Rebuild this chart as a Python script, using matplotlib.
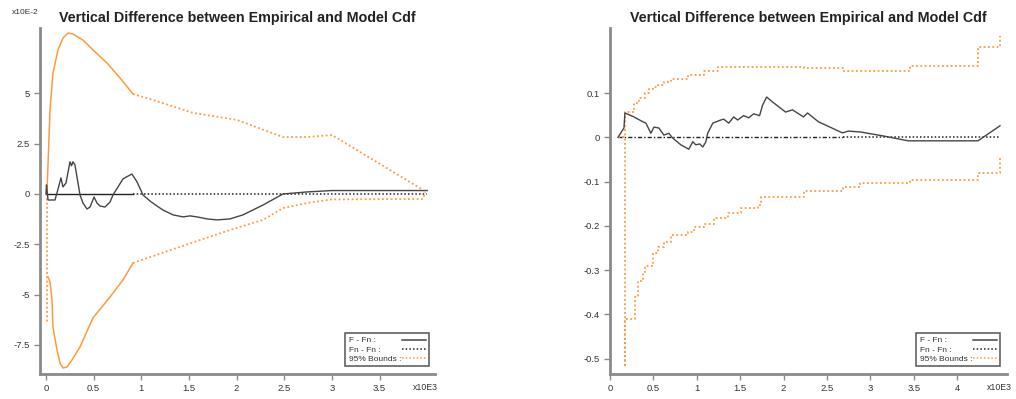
import matplotlib
matplotlib.use('Agg')
import matplotlib.pyplot as plt
from matplotlib.lines import Line2D

plt.rcParams['font.family'] = ['Liberation Sans', 'DejaVu Sans']

# ---------------- data: left panel (x in 1E3, y in 1E-2) ----------------
left_title = 'Vertical Difference between Empirical and Model Cdf'
left_xticks = [0, 0.5, 1, 1.5, 2, 2.5, 3, 3.5]
left_xticklabels = ['0', '0.5', '1', '1.5', '2', '2.5', '3', '3.5']
left_yticks = [-7.5, -5, -2.5, 0, 2.5, 5]
left_yticklabels = ['-7.5', '-5', '-2.5', '0', '2.5', '5']

left_diff_x = [0.0, 0.005, 0.021, 0.094, 0.115, 0.157, 0.178, 0.210, 0.252, 0.268,
               0.283, 0.304, 0.357, 0.388, 0.430, 0.462, 0.504, 0.535, 0.567, 0.619,
               0.672, 0.703, 0.808, 0.881, 0.902, 0.955, 1.018, 1.091, 1.165, 1.228,
               1.333, 1.438, 1.511, 1.584, 1.689, 1.794, 1.931, 2.067, 2.277, 2.487,
               2.739, 3.001, 4.000]
left_diff_y = [0.0, 0.45, -0.30, -0.30, 0.05, 0.80, 0.35, 0.55, 1.60, 1.40,
               1.60, 1.44, -0.05, -0.45, -0.75, -0.65, -0.15, -0.45, -0.60, -0.65,
               -0.40, -0.05, 0.75, 0.94, 0.99, 0.60, -0.05, -0.35, -0.60, -0.80,
               -1.04, -1.14, -1.09, -1.14, -1.24, -1.29, -1.24, -1.04, -0.55, 0.00,
               0.10, 0.17, 0.17]

left_upper_dense_x = [0.010, 0.042, 0.073, 0.126, 0.178, 0.231, 0.283, 0.388, 0.493,
                      0.640, 0.776, 0.913]
left_upper_dense_y = [0.05, 4.17, 6.01, 7.16, 7.75, 8.00, 7.95, 7.65, 7.16,
                      6.51, 5.77, 4.97]
left_upper_sparse_x = [0.913, 1.091, 1.543, 2.004, 2.487, 2.739, 3.001, 3.956]
left_upper_sparse_y = [4.97, 4.72, 4.03, 3.68, 2.83, 2.83, 2.93, 0.20]

left_lower_start_x = [0.010, 0.010]
left_lower_start_y = [0.0, -6.40]
left_lower_dense_x = [0.021, 0.042, 0.063, 0.073, 0.115, 0.147, 0.178, 0.220, 0.273,
                      0.357, 0.493, 0.672, 0.808, 0.913]
left_lower_dense_y = [-4.13, -4.37, -5.27, -6.61, -7.75, -8.40, -8.65, -8.60, -8.25,
                      -7.60, -6.16, -5.12, -4.27, -3.43]
left_lower_sparse_x = [0.913, 1.616, 1.931, 2.277, 2.487, 2.739, 3.001, 3.956, 3.980]
left_lower_sparse_y = [-3.43, -2.29, -1.79, -1.29, -0.70, -0.45, -0.27, -0.25, 0.10]

left_zero_dense_x = [0.0, 0.913]
left_zero_sparse_x = [0.913, 4.000]

# ---------------- data: right panel (x in 1E3) ----------------
right_title = 'Vertical Difference between Empirical and Model Cdf'
right_xticks = [0, 0.5, 1, 1.5, 2, 2.5, 3, 3.5, 4]
right_xticklabels = ['0', '0.5', '1', '1.5', '2', '2.5', '3', '3.5', '4']
right_yticks = [-0.5, -0.4, -0.3, -0.2, -0.1, 0, 0.1]
right_yticklabels = ['-0.5', '-0.4', '-0.3', '-0.2', '-0.1', '0', '0.1']

right_diff_x = [0.092, 0.161, 0.172, 0.276, 0.379, 0.414, 0.471, 0.506, 0.563, 0.621,
                0.678, 0.724, 0.816, 0.908, 0.954, 0.988, 1.035, 1.069, 1.103, 1.126,
                1.184, 1.276, 1.310, 1.368, 1.425, 1.471, 1.540, 1.598, 1.655, 1.724,
                1.759, 1.805, 1.885, 2.023, 2.103, 2.230, 2.276, 2.402, 2.678, 2.747,
                2.885, 3.149, 3.437, 3.839, 4.241, 4.494]
right_diff_y = [0.0, 0.021, 0.055, 0.046, 0.035, 0.032, 0.009, 0.023, 0.021, 0.005,
                0.009, -0.002, -0.017, -0.027, -0.010, -0.017, -0.015, -0.022, -0.011, 0.009,
                0.032, 0.039, 0.041, 0.032, 0.046, 0.039, 0.049, 0.044, 0.053, 0.049,
                0.073, 0.091, 0.078, 0.057, 0.062, 0.046, 0.055, 0.035, 0.010, 0.014,
                0.012, 0.003, -0.008, -0.008, -0.008, 0.026]

right_upper_x = [0.092, 0.172, 0.276, 0.333, 0.402, 0.448, 0.494, 0.552, 0.621, 0.701,
                 0.897, 1.080, 1.241, 2.230, 2.690, 3.460, 4.241, 4.494]
right_upper_y = [0.0, 0.057, 0.077, 0.089, 0.100, 0.109, 0.113, 0.118, 0.125, 0.131,
                 0.141, 0.150, 0.159, 0.157, 0.150, 0.161, 0.204, 0.229]

right_lower_x = [0.092, 0.172, 0.172, 0.287, 0.322, 0.379, 0.402, 0.494, 0.552, 0.621,
                 0.701, 0.897, 0.966, 1.080, 1.195, 1.356, 1.506, 1.701, 1.736, 2.230,
                 2.690, 2.885, 3.460, 4.241, 4.494]
right_lower_y = [0.0, -0.520, -0.411, -0.360, -0.325, -0.305, -0.290, -0.262, -0.248, -0.236,
                 -0.220, -0.213, -0.202, -0.196, -0.183, -0.171, -0.160, -0.153, -0.135, -0.121,
                 -0.113, -0.103, -0.097, -0.081, -0.045]

right_zero_a_x = [0.092, 2.690]
right_zero_b_x = [2.690, 4.494]

legend_labels = ['F - Fn :', 'Fn - Fn :', '95% Bounds :']

# ---------------- styling ----------------
ORANGE = '#FF9A3C'
DARK = '#454545'
SPINE = '#8A8A8A'
TXT = '#333333'
DOT = (0, (1.0, 1.4))

W, H = 1016, 399
fig = plt.figure(figsize=(W / 100, H / 100), dpi=100)
axL = fig.add_axes([40 / W, 1 - 374 / H, 395 / W, 346 / H])
axR = fig.add_axes([610 / W, 1 - 374 / H, 397 / W, 346 / H])


def style(ax, title):
    for s in ('top', 'right'):
        ax.spines[s].set_visible(False)
    for s in ('left', 'bottom'):
        ax.spines[s].set_color(SPINE)
        ax.spines[s].set_linewidth(2.0)
    ax.tick_params(direction='out', length=4, width=1, color=SPINE,
                   labelsize=6.8, labelcolor=TXT, pad=3.5)
    ax.set_title(title, fontsize=10.3, fontweight='bold', color='#222222', pad=4.5)


def add_legend(ax, anchor):
    handles = [Line2D([], [], color=DARK, lw=1.1),
               Line2D([], [], color='#222222', lw=1.1, ls=DOT),
               Line2D([], [], color=ORANGE, lw=1.1, ls=DOT)]
    leg = ax.legend(handles, legend_labels, loc='lower right', bbox_to_anchor=anchor,
                    markerfirst=False, fontsize=6.0, frameon=True, fancybox=False,
                    edgecolor='#555555', framealpha=1, borderpad=0.4,
                    labelspacing=0.15, handlelength=2.8, handletextpad=0.3,
                    borderaxespad=0)
    leg.get_frame().set_linewidth(1.1)
    for t in leg.get_texts():
        t.set_color(TXT)
    try:
        for col in leg._legend_handle_box.get_children():
            col.align = 'left'
            for item in col.get_children():
                item.width = 77
                item.mode = 'expand'
    except Exception:
        pass
    return leg


# ---------------- left panel ----------------
axL.plot(left_zero_dense_x, [0, 0], color='#222222', lw=1.0)
axL.plot(left_zero_sparse_x, [0, 0], color='#222222', lw=1.1, ls=DOT)
axL.plot(left_upper_dense_x, left_upper_dense_y, color=ORANGE, lw=1.1)
axL.plot(left_upper_sparse_x, left_upper_sparse_y, color=ORANGE, lw=1.3, ls=DOT)
axL.plot(left_lower_start_x, left_lower_start_y, color=ORANGE, lw=1.3, ls=DOT)
axL.plot(left_lower_dense_x, left_lower_dense_y, color=ORANGE, lw=1.1)
axL.plot(left_lower_sparse_x, left_lower_sparse_y, color=ORANGE, lw=1.3, ls=DOT)
axL.plot(left_diff_x, left_diff_y, color=DARK, lw=1.0)
axL.set_xlim(-0.063, 4.082)
axL.set_ylim(-8.95, 8.25)
axL.set_xticks(left_xticks, left_xticklabels)
axL.set_yticks(left_yticks, left_yticklabels)
style(axL, left_title)
add_legend(axL, (1 - 6 / 395, 8 / 346))
axL.text(-28 / 395, 1 + 15 / 346, 'x10E-2', transform=axL.transAxes, fontsize=6.0,
         color=TXT, ha='left', va='center')
axL.text(1 - 22 / 395, -14 / 346, 'x10E3', transform=axL.transAxes, fontsize=6.3,
         color=TXT, ha='left', va='center')

# ---------------- right panel ----------------
axR.plot(right_zero_a_x, [0, 0], color='#222222', lw=1.0, ls=(0, (3, 1.5, 1, 1.5)))
axR.plot(right_zero_b_x, [0, 0], color='#222222', lw=1.1, ls=DOT)
axR.plot(right_upper_x, right_upper_y, color=ORANGE, lw=1.3, ls=DOT, drawstyle='steps-post')
axR.plot(right_lower_x, right_lower_y, color=ORANGE, lw=1.3, ls=DOT, drawstyle='steps-post')
axR.plot(right_diff_x, right_diff_y, color=DARK, lw=1.0)
axR.set_xlim(0, 4.575)
axR.set_ylim(-0.535, 0.247)
axR.set_xticks(right_xticks, right_xticklabels)
axR.set_yticks(right_yticks, right_yticklabels)
style(axR, right_title)
add_legend(axR, (1 - 7 / 397, 8 / 346))
axR.text(1 - 20 / 397, -14 / 346, 'x10E3', transform=axR.transAxes, fontsize=6.3,
         color=TXT, ha='left', va='center')

fig.savefig('out.png', dpi=100)
